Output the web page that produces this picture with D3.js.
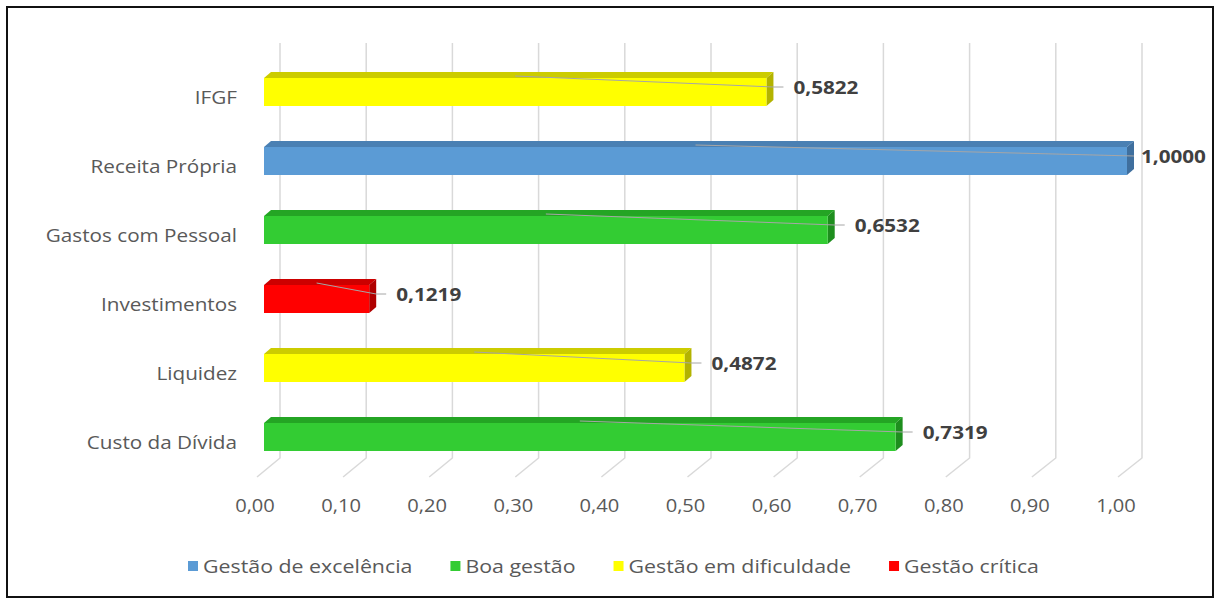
<!DOCTYPE html>
<html>
<head>
<meta charset="utf-8">
<script src="https://cdn.jsdelivr.net/npm/d3@7"></script>
<style>
  html, body { margin: 0; padding: 0; background: #fff; }
  svg { display: block; }
  text { font-family: "Open Sans", "Liberation Sans", sans-serif; }
</style>
</head>
<body>
<svg id="chart" width="1218" height="605"></svg>
<script>
// Indicator names (top to bottom) and their index values
const categories = ["IFGF", "Receita Própria", "Gastos com Pessoal", "Investimentos", "Liquidez", "Custo da Dívida"];
const values = [0.5822, 1.0000, 0.6532, 0.1219, 0.4872, 0.7319];
// Management class of each indicator
const classes = ["Gestão em dificuldade", "Gestão de excelência", "Boa gestão", "Gestão crítica", "Gestão em dificuldade", "Boa gestão"];
// Legend entries, in display order
const legendLabels = ["Gestão de excelência", "Boa gestão", "Gestão em dificuldade", "Gestão crítica"];
// Axis tick values
const tickValues = [0, 0.1, 0.2, 0.3, 0.4, 0.5, 0.6, 0.7, 0.8, 0.9, 1.0];

const palette = {
  "Gestão de excelência": { front: "#5B9BD5", top: "#4A80B3", side: "#3F6F9E" },
  "Boa gestão":           { front: "#33CC33", top: "#24A524", side: "#1E8E1E" },
  "Gestão em dificuldade":{ front: "#FFFF00", top: "#CCCC00", side: "#B3B300" },
  "Gestão crítica":       { front: "#FF0000", top: "#CC0000", side: "#B00000" }
};

const svg = d3.select("#chart");
const sx = 1.15; // horizontal text stretch

// Frame
svg.append("rect").attr("x", 7).attr("y", 7).attr("width", 1206).attr("height", 590)
  .attr("fill", "#fff").attr("stroke", "#111").attr("stroke-width", 2);

// Scales: back wall, front face of bars, floor front edge
const xBack = d3.scaleLinear().domain([0, 1]).range([280, 1142]);
const xFront = d3.scaleLinear().domain([0, 1]).range([264, 1127]);
const xFloor = d3.scaleLinear().domain([0, 1]).range([257, 1118]);
const yC = d3.scalePoint().domain(categories).range([92, 437]);

const wallTop = 43, wallBottom = 458, floorFront = 477;
const barH = 28, dx = 7, dy = 6;

// Gridlines on back wall and floor
const grid = svg.append("g").attr("fill", "none").attr("stroke", "#D9D9D9").attr("stroke-width", 1.5);
grid.selectAll("path").data(tickValues).join("path")
  .attr("d", v => `M${xBack(v)},${wallTop}L${xBack(v)},${wallBottom}L${xFloor(v)},${floorFront}`);

// Tick labels
const fmtTick = d3.format(".2f");
svg.append("g").selectAll("text").data(tickValues).join("text")
  .attr("transform", v => `translate(${xFloor(v) - 2},${512}) scale(${sx},1)`)
  .attr("text-anchor", "middle")
  .attr("font-size", 17.5).attr("fill", "#595959")
  .text(v => fmtTick(v).replace(".", ","));

// Category labels
svg.append("g").selectAll("text").data(categories).join("text")
  .attr("transform", c => `translate(237,${yC(c) + 5}) scale(${sx},1)`)
  .attr("text-anchor", "end").attr("dominant-baseline", "central")
  .attr("font-size", 18).attr("fill", "#595959")
  .text(c => c);

// 3D bars
const rows = categories.map((c, i) => ({ c, v: values[i], k: classes[i] }));
const bars = svg.append("g").selectAll("g").data(rows).join("g");
bars.each(function (d) {
  const g = d3.select(this);
  const x0 = xFront(0), x1 = xFront(d.v);
  const yT = yC(d.c) - barH / 2, yB = yC(d.c) + barH / 2;
  const col = palette[d.k];
  g.append("path").attr("fill", col.top)
    .attr("d", `M${x0},${yT}L${x0 + dx},${yT - dy}L${x1 + dx},${yT - dy}L${x1},${yT}Z`);
  g.append("path").attr("fill", col.side)
    .attr("d", `M${x1},${yT}L${x1 + dx},${yT - dy}L${x1 + dx},${yB - dy}L${x1},${yB}Z`);
  g.append("rect").attr("fill", col.front)
    .attr("x", x0).attr("y", yT).attr("width", x1 - x0).attr("height", barH);
});

// Leader lines and value labels (kept inside the frame)
const fmtVal = d3.format(".4f");
const labels = svg.append("g");
rows.forEach(d => {
  const yT = yC(d.c) - barH / 2;
  const ly = yC(d.c) - 5;
  const xr = xFront(d.v) + dx;
  const t = labels.append("text")
    .attr("dominant-baseline", "central")
    .attr("font-size", 18).attr("font-weight", "bold").attr("fill", "#404040")
    .text(fmtVal(d.v).replace(".", ","));
  const w = t.node().getComputedTextLength() * sx;
  const tx = Math.min(xr + 20, 1206 - w);
  t.attr("transform", `translate(${tx},${ly}) scale(${sx},1)`);
  const lineEnd = Math.max(xr, tx - 10);
  labels.insert("path", "text").attr("fill", "none").attr("stroke", "#A6A6A6").attr("stroke-width", 1)
    .attr("d", `M${xFront(d.v / 2)},${yT - 2}L${xr},${ly}L${lineEnd},${ly}`);
});

// Legend
const legend = svg.append("g");
const lsx = 1.22;
let lx = 188;
legendLabels.forEach(name => {
  legend.append("rect").attr("x", lx).attr("y", 561).attr("width", 10).attr("height", 10)
    .attr("fill", palette[name].front);
  const t = legend.append("text")
    .attr("transform", `translate(${lx + 15},566) scale(${lsx},1)`)
    .attr("dominant-baseline", "central")
    .attr("font-size", 17.5).attr("fill", "#595959").text(name);
  lx += 15 + t.node().getComputedTextLength() * lsx + 38;
});
</script>
</body>
</html>
